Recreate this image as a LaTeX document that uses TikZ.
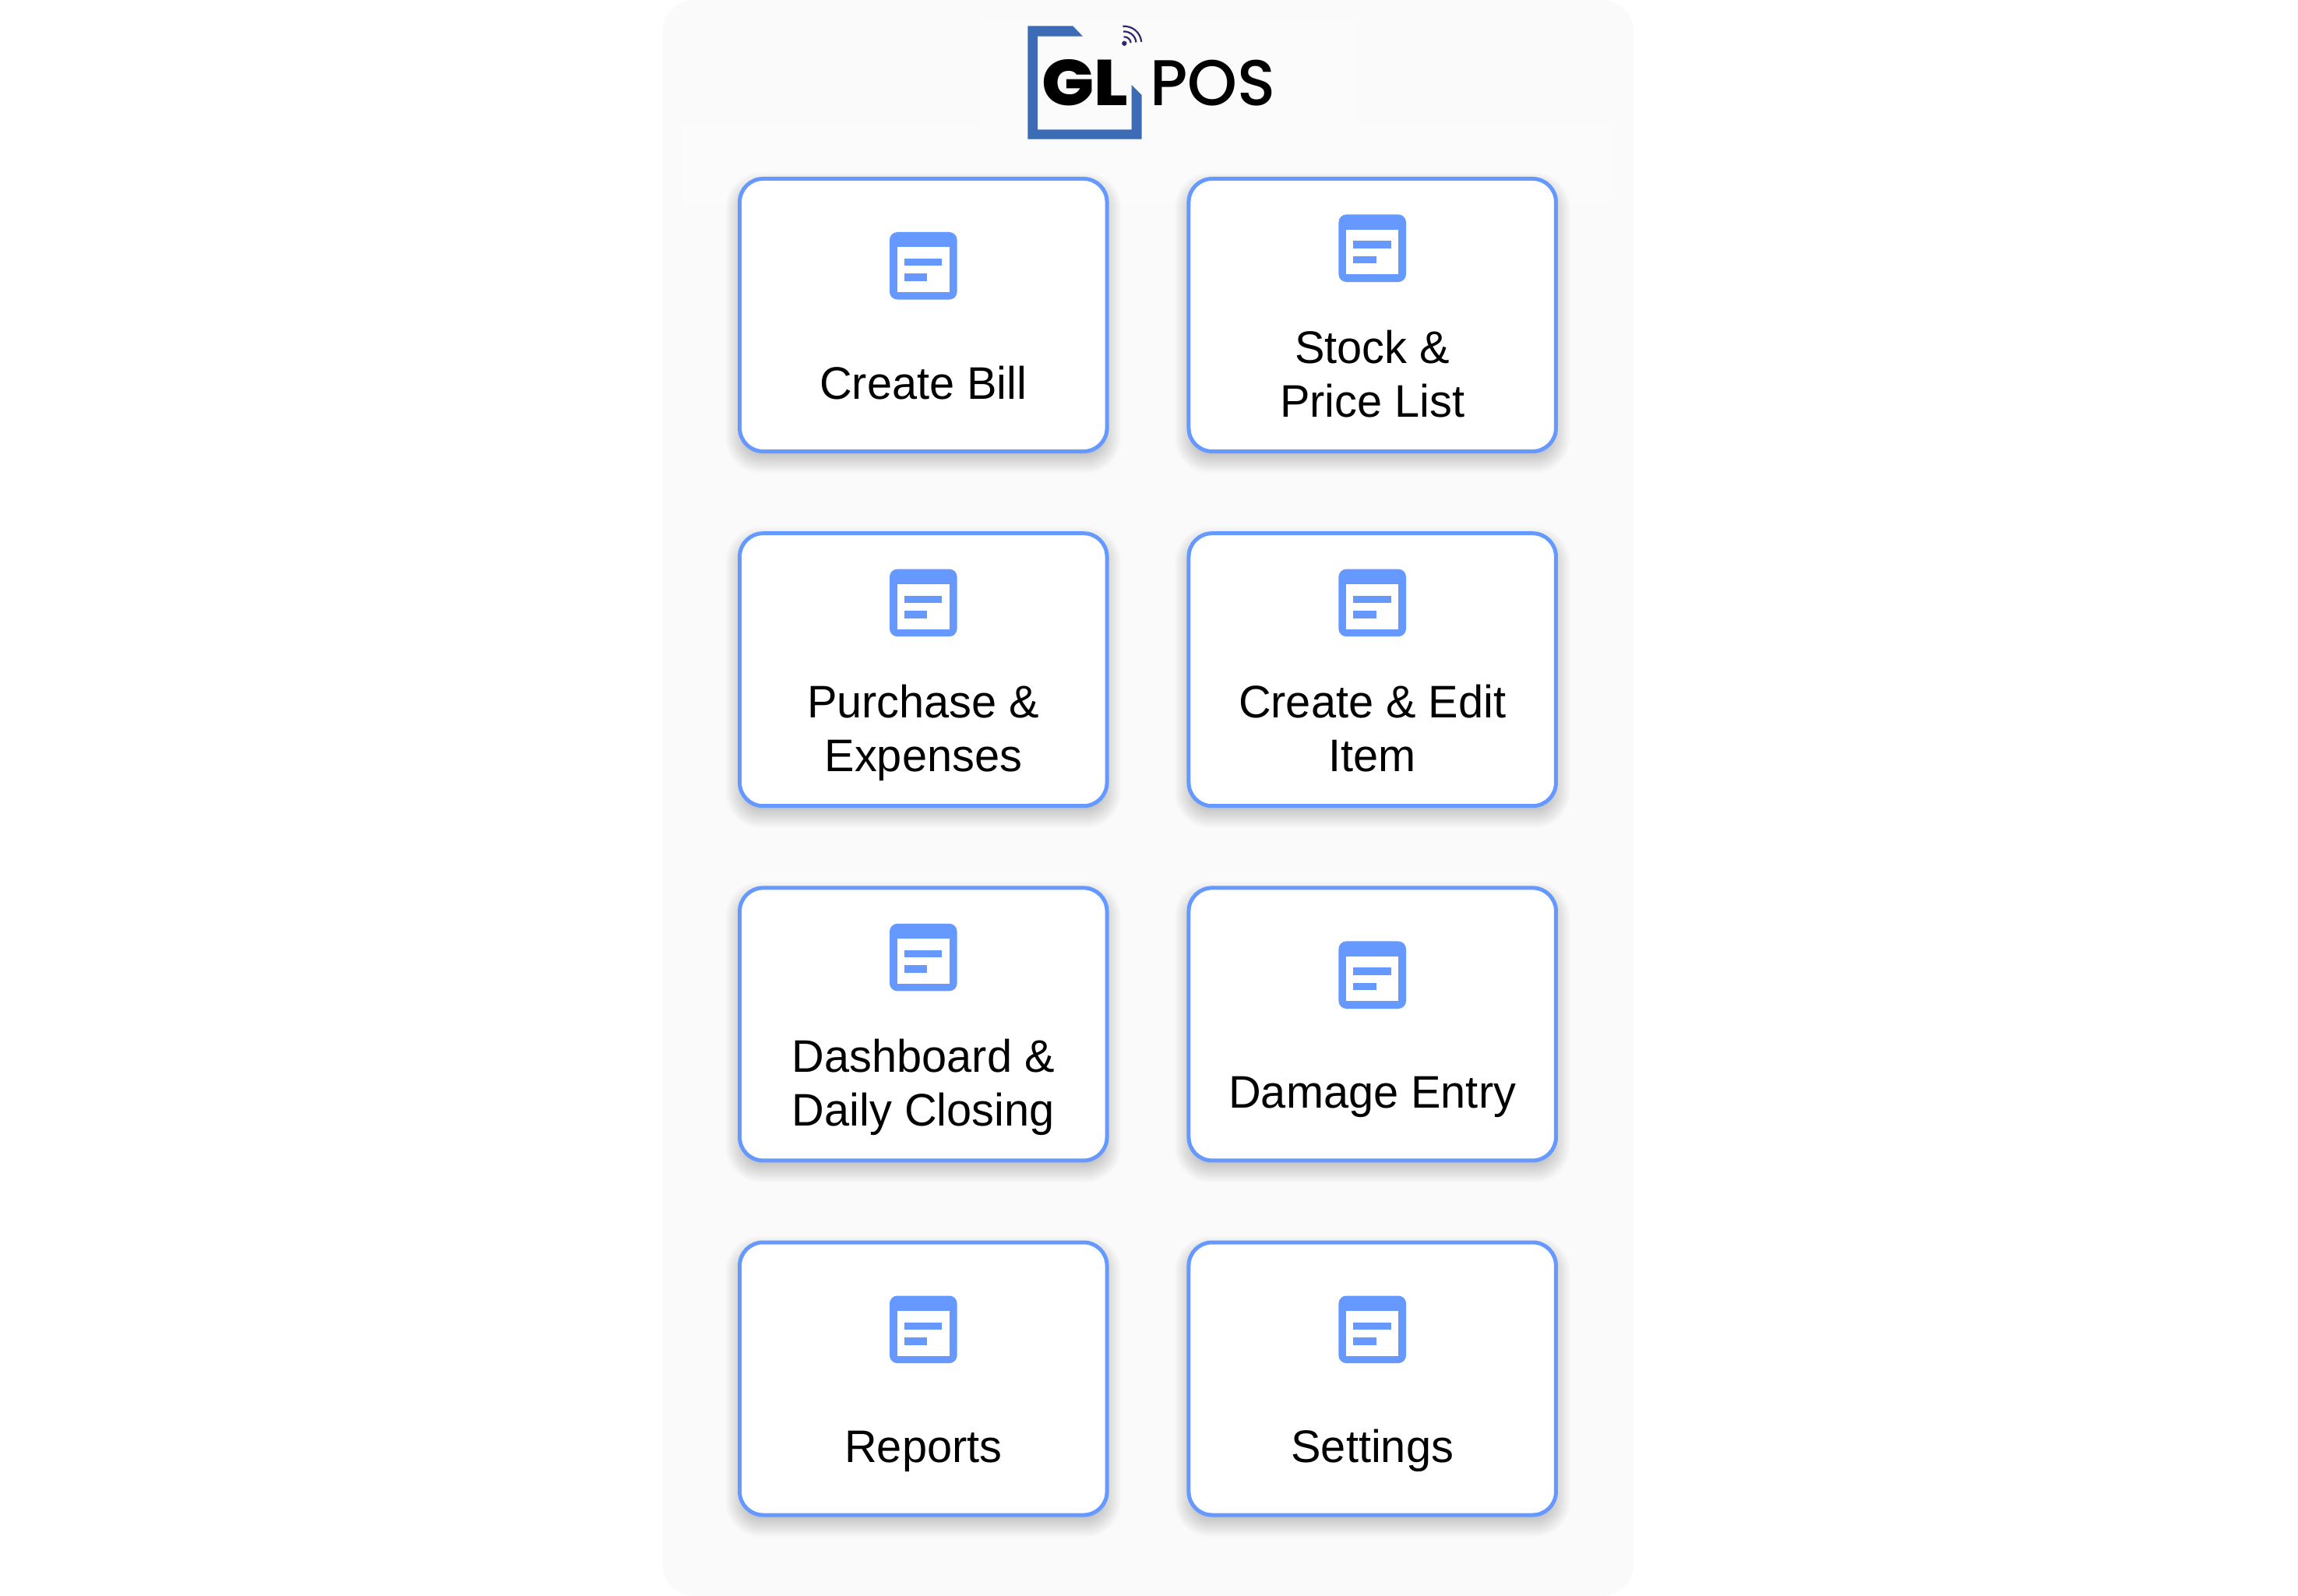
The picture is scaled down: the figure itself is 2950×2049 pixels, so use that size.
\documentclass[tikz,border=0pt]{standalone}
\usepackage{fontspec}
\setmainfont{Liberation Sans}[FakeStretch=0.985]
\newfontfamily\logobold{Poppins ExtraBold}[FakeStretch=1.07]
\newfontfamily\logomed{Poppins Medium}[FakeStretch=0.98]
\usetikzlibrary{calc}
\definecolor{panelbg}{HTML}{FAFAFA}
\definecolor{patchbg}{HTML}{FBFBFB}
\definecolor{cardblue}{HTML}{6699FF}
\definecolor{logoblue}{HTML}{3B6CB5}
\definecolor{wifi}{HTML}{2E2A6B}
\tikzset{
  x=0.5pt,y=-0.5pt,
  cardbox/.style={draw=cardblue,line width=2.5pt,fill=white,rounded corners=15pt,
    minimum width=235.75pt,minimum height=175pt,inner sep=0pt},
  cardlabel/.style={font=\fontsize{29.3}{34.5}\selectfont,align=center,text=black,inner sep=0pt,anchor=base},
  wifiarc/.style={draw=wifi,line width=1.1pt},
}
\newcommand{\cardshadow}[2]{%
  \foreach \s in {-12,...,16}{%
    \pgfmathsetmacro{\rr}{max(15+\s/2,4)}%
    \fill[black,opacity=.0085,rounded corners=\rr pt]
      ({#1-238.25-\s},{#2+10-177.5-\s}) rectangle ({#1+238.25+\s},{#2+10+177.5+\s});
  }}
\newcommand{\docicon}[2]{%
  \begin{scope}[shift={(#1,#2)}]
    \fill[cardblue,rounded corners=5pt] (-43.3,-43.3) rectangle (43.3,43.3);
    \fill[white] (-33.7,-24) rectangle (33.5,33.7);
    \fill[cardblue] (-24.6,-9.3) rectangle (24.1,0);
    \fill[cardblue] (-24.6,10) rectangle (4.8,19.7);
  \end{scope}}
% #1 name, #2 cx, #3 cy, #4 lines (1 or 2), #5 label
\newcommand{\card}[5]{%
  \cardshadow{#2}{#3}
  \node[cardbox] (#1) at (#2,#3) {};
  \ifnum#4=1
    \docicon{#2}{#3-63.2}
    \node[cardlabel] (#1label) at (#2,#3+107.8) {#5};
  \else
    \docicon{#2}{#3-85.8}
    \node[cardlabel] (#1label) at (#2,#3+131) {#5};
  \fi
}
\begin{document}
\begin{tikzpicture}
\useasboundingbox (0,0) rectangle (2950,2049);
\fill[white] (0,0) rectangle (2950,2049);
\fill[panelbg,rounded corners=20pt] (851,0) rectangle (2097,2049);
\fill[patchbg] (1258,25) rectangle (1738,160);
\fill[patchbg] (875,160) rectangle (2066,262);
% cards
\card{c1}{1185.3}{404.5}{1}{Create Bill}
\card{c2}{1761.7}{404.5}{2}{Stock \&\\Price List}
\card{c3}{1185.3}{859.7}{2}{Purchase \&\\Expenses}
\card{c4}{1761.7}{859.7}{2}{Create \& Edit\\Item}
\card{c5}{1185.3}{1314.9}{2}{Dashboard \&\\Daily Closing}
\card{c6}{1761.7}{1314.9}{1}{Damage Entry}
\card{c7}{1185.3}{1770}{1}{Reports}
\card{c8}{1761.7}{1770}{1}{Settings}
% logo
\fill[logoblue] (1319.3,33.3) -- (1377.3,33.3) -- (1390,46.7) -- (1332,46.7) -- (1332,166.3)
  -- (1452.7,166.3) -- (1452.7,109) -- (1465.7,122) -- (1465.7,178.7) -- (1319.3,178.7) -- cycle;
\node[inner sep=0pt,anchor=base west,font=\logobold\fontsize{41.5}{41.5}\selectfont] (logogl) at (1337,135.7) {GL};
\node[inner sep=0pt,anchor=base west,font=\logomed\fontsize{41.5}{41.5}\selectfont] (logopos) at (1476,135.7) {POS};
\coordinate (wifidot) at (1443.3,55.7);
\fill[wifi] (wifidot) circle (1.6pt);
\draw[wifiarc] ($(wifidot)+(95:4.2pt)$) arc[start angle=95,end angle=5,radius=4.2pt];
\draw[wifiarc] ($(wifidot)+(95:7.6pt)$) arc[start angle=95,end angle=5,radius=7.6pt];
\draw[wifiarc] ($(wifidot)+(95:11pt)$) arc[start angle=95,end angle=5,radius=11pt];
\end{tikzpicture}
\end{document}
